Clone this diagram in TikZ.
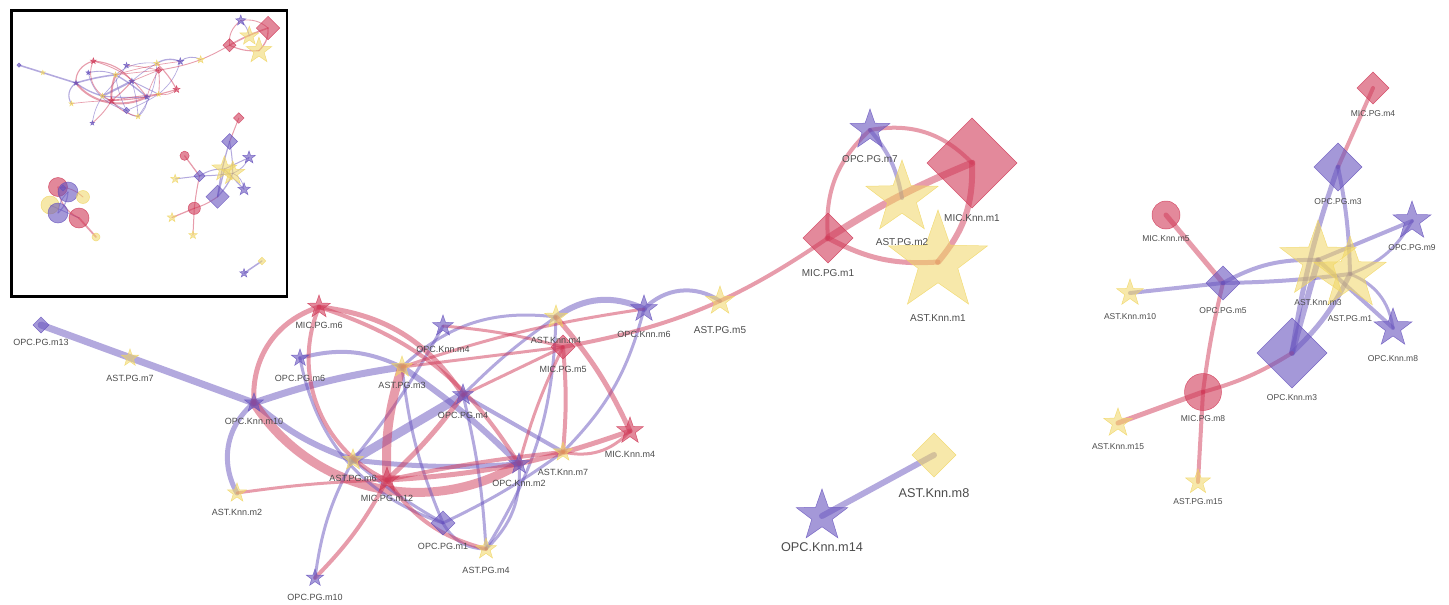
\documentclass[tikz,border=0pt]{standalone}
\usepackage{fontspec}
\setmainfont{Liberation Sans}
\usetikzlibrary{shapes.geometric}

\definecolor{opccol}{RGB}{104,84,190}
\definecolor{miccol}{RGB}{208,58,88}
\definecolor{astcol}{RGB}{240,214,100}
\definecolor{txtcol}{RGB}{75,75,75}

\tikzset{
  vert/.style={inner sep=0pt, outer sep=0pt, line width=.5pt,
    fill opacity=.6, draw opacity=.8},
  vstar/.style={vert, star, star points=5, star point ratio=2.5},
  vdia/.style={vert, diamond},
  vcirc/.style={vert, circle},
  opcstar/.style={vstar, fill=opccol, draw=opccol},
  micstar/.style={vstar, fill=miccol, draw=miccol},
  aststar/.style={vstar, fill=astcol, draw=astcol, fill opacity=.55},
  opcdia/.style={vdia, fill=opccol, draw=opccol},
  micdia/.style={vdia, fill=miccol, draw=miccol},
  astdia/.style={vdia, fill=astcol, draw=astcol, fill opacity=.55},
  opccirc/.style={vcirc, fill=opccol, draw=opccol},
  miccirc/.style={vcirc, fill=miccol, draw=miccol},
  astcirc/.style={vcirc, fill=astcol, draw=astcol, fill opacity=.55},
  pedge/.style={draw=opccol, draw opacity=.5, line cap=round},
  redge/.style={draw=miccol, draw opacity=.5, line cap=round},
  lbl/.style={text=txtcol, inner sep=0pt, font=\fontsize{9}{10}\selectfont},
  lblm/.style={lbl, font=\fontsize{10}{11}\selectfont},
  lblr/.style={lbl, font=\fontsize{8.5}{10}\selectfont},
  lblbig/.style={lbl, font=\fontsize{12.7}{14}\selectfont},
}

% name/x/y/shape/size/text/label drop/label style
\newcommand\groupAverts{
  opc13/41/325/opcdia/16/OPC.PG.m13/17/lbl,
  ast7/130/358/aststar/18/AST.PG.m7/20/lbl,
  opck10/254/403/opcstar/20/OPC.Knn.m10/18/lbl,
  mic6/319/307/micstar/24/MIC.PG.m6/18/lbl,
  opc6/300/358/opcstar/18/OPC.PG.m6/20/lbl,
  astk2/237/493/aststar/20/AST.Knn.m2/19/lbl,
  opc10/315/578/opcstar/18/OPC.PG.m10/19/lbl,
  ast6/353/460/aststar/22/AST.PG.m6/18/lbl,
  mic12/387/480/micstar/26/MIC.PG.m12/18/lbl,
  ast3/402/367/aststar/22/AST.PG.m3/18/lbl,
  opck4/443/326/opcstar/22/OPC.Knn.m4/23/lbl,
  opc4/463/395/opcstar/22/OPC.PG.m4/20/lbl,
  astk4/556/317/aststar/24/AST.Knn.m4/23/lbl,
  mic5/563/347/micdia/24/MIC.PG.m5/22/lbl,
  opck6/644/309/opcstar/28/OPC.Knn.m6/25/lbl,
  mick4/630/431/micstar/28/MIC.Knn.m4/23/lbl,
  astk7/563/452/aststar/20/AST.Knn.m7/20/lbl,
  opck2/519/464/opcstar/22/OPC.Knn.m2/19/lbl,
  opc1/443/523/opcdia/24/OPC.PG.m1/23/lbl,
  ast4/486/549/aststar/22/AST.PG.m4/21/lbl,
  ast5/720/301/aststar/30/AST.PG.m5/29/lblm,
  mic1/828/238/micdia/50/MIC.PG.m1/35/lblm,
  opc7/870/130/opcstar/42/OPC.PG.m7/29/lblm,
  ast2/902/198/aststar/76/AST.PG.m2/44/lblm,
  mick1/972/163/micdia/90/MIC.Knn.m1/55/lblm,
  astk1/938/262/aststar/104/AST.Knn.m1/56/lblm}
\newcommand\groupBverts{
  mic4/1373/88/micdia/32/MIC.PG.m4/26/lblr,
  opc3/1338/167/opcdia/48/OPC.PG.m3/35/lblr,
  mick5/1166/215/miccirc/28/MIC.Knn.m5/24/lblr,
  opc9/1412/221/opcstar/40/OPC.PG.m9/27/lblr,
  opc5/1223/283/opcdia/34/OPC.PG.m5/28/lblr,
  astk10/1130/293/aststar/28/AST.Knn.m10/24/lblr,
  astk3/1318/260/aststar/80/AST.Knn.m3/43/lblr,
  ast1/1350/274/aststar/76/AST.PG.m1/45/lblr,
  opck8/1393/328/opcstar/40/OPC.Knn.m8/31/lblr,
  opck3/1292/353/opcdia/70/OPC.Knn.m3/45/lblr,
  mic8/1203/392/miccirc/37/MIC.PG.m8/27/lblr,
  astk15/1118/423/aststar/30/AST.Knn.m15/24/lblr,
  ast15/1198/482/aststar/26/AST.PG.m15/20/lblr}
\newcommand\groupCverts{
  astk8/934/455/astdia/44/AST.Knn.m8/38/lblbig,
  opck14/822/516/opcstar/54/OPC.Knn.m14/31/lblbig}
% only shown in the overview box
\newcommand\blobverts{
  b1/58/187/miccirc/19/-/0/lbl,
  b2/68/192/opccirc/20/-/0/lbl,
  b3/83/197/astcirc/13/-/0/lbl,
  b4/50/205/astcirc/18/-/0/lbl,
  b5/58/213/opccirc/20/-/0/lbl,
  b6/79/218/miccirc/20/-/0/lbl,
  b7/96/237/astcirc/8/-/0/lbl,
  b8/63/188/opcdia/6/-/0/lbl}

% from/to/style/width/bend
\newcommand\groupAlinks{
  opc13/opck10/pedge/7/0,
  opck10/ast3/pedge/7/5,
  opck10/astk2/pedge/5/-40,
  opck10/ast6/pedge/6/-10,
  opck10/opck2/redge/9/-44,
  opc6/ast3/pedge/4/20,
  opc6/opc1/pedge/3/-30,
  opc10/ast6/pedge/3/10,
  ast6/opck4/pedge/3/-5,
  ast3/opc1/pedge/3/-8,
  ast3/opck2/pedge/6/5,
  ast6/opc4/pedge/9/0,
  ast6/opck2/pedge/5/-5,
  ast6/opc1/pedge/3/-5,
  opc4/astk7/pedge/4/0,
  opc4/ast4/pedge/3/5,
  opc4/astk4/pedge/3/5,
  ast3/astk4/pedge/3/25,
  astk4/opck6/pedge/6/30,
  opck6/ast5/pedge/4/40,
  opck6/astk7/pedge/3/15,
  astk4/ast4/pedge/3/15,
  opc1/astk7/pedge/3/-5,
  opc1/ast4/pedge/3/-30,
  ast4/opck2/pedge/3/-25,
  mic6/opck10/redge/5/-38,
  mic6/mic12/redge/4/-44,
  mic6/opc4/redge/5/25,
  mic6/opck2/redge/4/20,
  mic12/ast3/redge/9/10,
  mic12/opc4/redge/5/-5,
  opc4/mic5/redge/3/0,
  mic12/astk7/redge/4/3,
  mic12/mick4/redge/5/-8,
  astk2/mic12/redge/3/3,
  opc10/mic12/redge/4/-8,
  mic12/ast4/redge/4/-20,
  ast3/mic5/redge/3/0,
  opck4/mic5/redge/3/5,
  ast3/opck6/redge/3/5,
  astk4/mick4/redge/5/8,
  mic5/opck2/redge/3/-5,
  mic5/astk7/redge/4/5,
  mick4/astk7/redge/3/30,
  mic5/mic1/redge/4/-12,
  mic1/mick1/redge/7/5,
  mic1/opc7/redge/4/26,
  opc7/mick1/redge/4/28,
  mic1/astk1/redge/5/-16,
  astk1/mick1/redge/6/-21,
  opc7/ast2/pedge/4/15}
\newcommand\groupBlinks{
  mic4/opc3/redge/4/0,
  opc3/opck3/pedge/5/-5,
  opc3/ast1/pedge/4/5,
  mick5/opc5/redge/5/0,
  opc5/mic8/redge/4/-3,
  mic8/ast15/redge/4/0,
  astk10/opc5/pedge/4/0,
  opc5/astk3/pedge/4/15,
  astk3/opc9/pedge/4/0,
  opc5/ast1/pedge/4/-3,
  astk3/opck8/pedge/4/0,
  ast1/opc9/pedge/3/-20,
  ast1/opck8/pedge/3/30,
  opck3/astk3/pedge/6/0,
  opck3/ast1/pedge/5/-10,
  opck3/mic8/redge/4/8,
  mic8/astk15/redge/5/0}
\newcommand\groupClinks{
  astk8/opck14/pedge/6/0}
\newcommand\bloblinks{
  b6/b7/redge/6/0,
  b1/b6/redge/4/-30,
  b2/b5/pedge/4/20,
  b4/b6/pedge/3/0,
  b1/b3/redge/3/20,
  b5/b2/pedge/3/20}

% #1 name prefix, #2 vertex list
\newcommand\placecoords[2]{%
  \foreach \vn/\vx/\vy/\vs/\vd/\vt/\vdy/\vf in #2 {\coordinate (#1\vn) at (\vx,\vy);}}
% #1 name prefix, #2 link list, #3 width factor
\newcommand\placelinks[3]{%
  \foreach \from/\to/\sty/\wd/\bnd in #2
    {\draw[\sty, line width=#3*\wd pt] (#1\from) to[bend left=\bnd] (#1\to);}}
% #1 name prefix, #2 vertex list, #3 size factor
\newcommand\placemarks[3]{%
  \foreach \vn/\vx/\vy/\vs/\vd/\vt/\vdy/\vf in #2
    {\node[\vs, minimum size=#3*\vd pt] (#1\vn-mark) at (#1\vn) {};}}
\newcommand\placetexts[1]{%
  \foreach \vn/\vx/\vy/\vs/\vd/\vt/\vdy/\vf in #1
    {\node[\vf] (\vn-text) at ([yshift=-\vdy pt]\vn) {\vt};}}

\begin{document}
\begin{tikzpicture}[x=1pt, y=-1pt]
  \useasboundingbox (0,0) rectangle (1449,605);

  % main view
  \placecoords{}{\groupAverts}
  \placecoords{}{\groupBverts}
  \placecoords{}{\groupCverts}
  \placelinks{}{\groupAlinks}{1}
  \placelinks{}{\groupBlinks}{1}
  \placelinks{}{\groupClinks}{1}
  \placemarks{}{\groupAverts}{1}
  \placemarks{}{\groupBverts}{1}
  \placemarks{}{\groupCverts}{1}
  \placetexts{\groupAverts}
  \placetexts{\groupBverts}
  \placetexts{\groupCverts}

  % overview box
  \fill[white] (11.5,10.5) rectangle (287,296.5);
  \begin{scope}[shift={(8.03,-9.3)}, xscale=.2675, yscale=.229]
    \placecoords{i}{\groupAverts}
    \placelinks{i}{\groupAlinks}{.22}
    \placemarks{i}{\groupAverts}{.26}
  \end{scope}
  \begin{scope}[shift={(-120.9,91.9)}, xscale=.262, yscale=.297]
    \placecoords{i}{\groupBverts}
    \placelinks{i}{\groupBlinks}{.25}
    \placemarks{i}{\groupBverts}{.33}
  \end{scope}
  \begin{scope}[shift={(112.5,170)}, xscale=.16, yscale=.2]
    \placecoords{i}{\groupCverts}
    \placelinks{i}{\groupClinks}{.25}
    \placemarks{i}{\groupCverts}{.17}
  \end{scope}
  \placecoords{i}{\blobverts}
  \placelinks{i}{\bloblinks}{.3}
  \placemarks{i}{\blobverts}{1}
  \draw[line width=2.8pt] (11.5,10.5) rectangle (287,296.5);
\end{tikzpicture}
\end{document}
